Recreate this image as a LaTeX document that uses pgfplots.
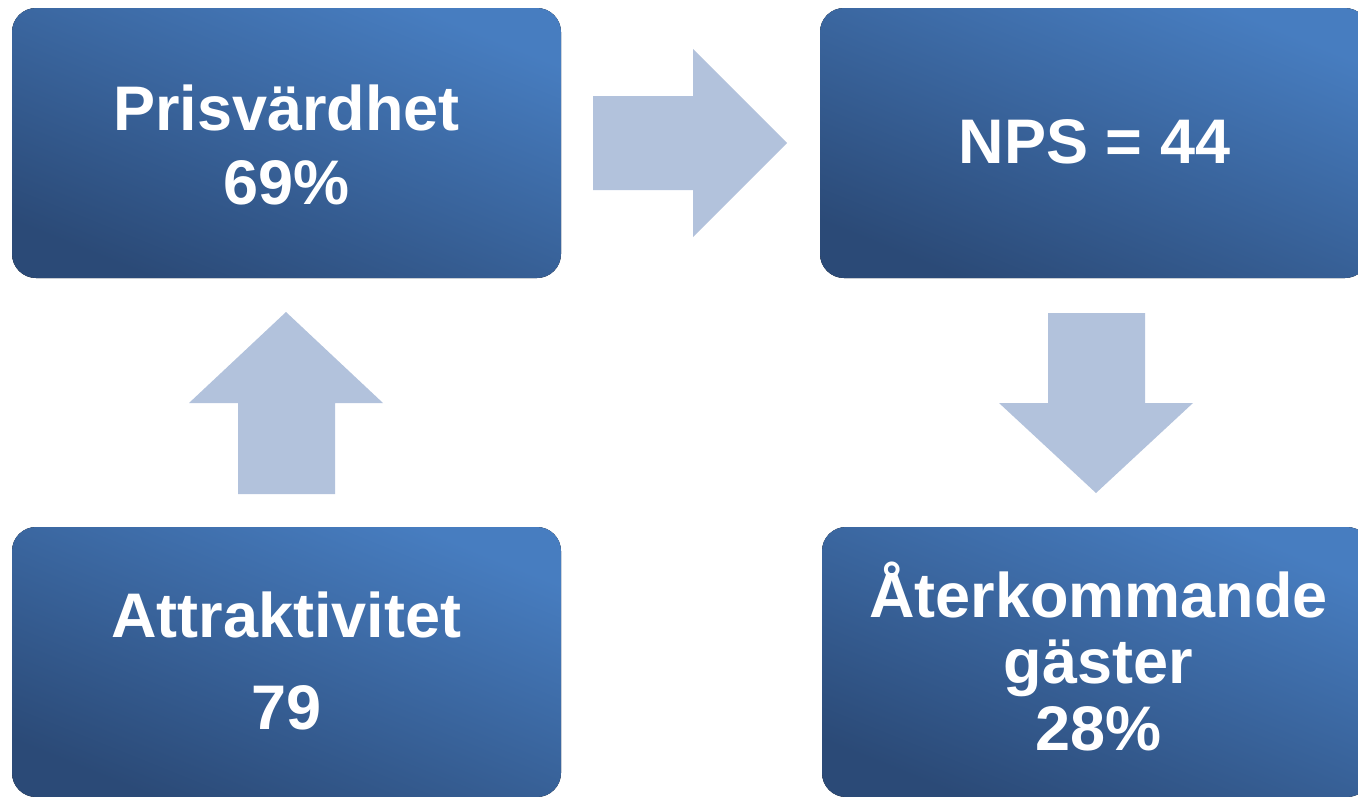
\documentclass[border=0pt]{standalone}
\usepackage{pgfplots}
\pgfplotsset{compat=1.18}
\usepackage{fontspec}
\setmainfont{Liberation Sans}
\definecolor{boxlight}{HTML}{477DC0}
\definecolor{boxdark}{HTML}{2B4A77}
\definecolor{arrowc}{HTML}{B2C2DC}
\newcommand{\boxfont}{\fontsize{63}{72}\selectfont\bfseries}
\begin{document}
\begin{tikzpicture}
\begin{axis}[
  scale only axis, width=1358pt, height=796pt,
  xmin=0, xmax=1358, ymin=0, ymax=796, y dir=reverse,
  hide axis, clip=true,
]
% boxes (pixel coordinates: left, top, right, bottom)
\fill[rounded corners=24pt, top color=boxlight, bottom color=boxdark, shading angle=-22]
  (axis cs:12,8) rectangle (axis cs:561,278);
\fill[rounded corners=24pt, top color=boxlight, bottom color=boxdark, shading angle=-22]
  (axis cs:820,8) rectangle (axis cs:1369,278);
\fill[rounded corners=24pt, top color=boxlight, bottom color=boxdark, shading angle=-22]
  (axis cs:12,527) rectangle (axis cs:561,797);
\fill[rounded corners=24pt, top color=boxlight, bottom color=boxdark, shading angle=-22]
  (axis cs:822,527) rectangle (axis cs:1371,797);
% arrows
\addplot[fill=arrowc, draw=none] coordinates {
  (593,96) (693,96) (693,49) (787,143) (693,237) (693,190) (593,190)} --cycle;
\addplot[fill=arrowc, draw=none] coordinates {
  (238,494) (238,403) (189,403) (286,312) (383,403) (335,403) (335,494)} --cycle;
\addplot[fill=arrowc, draw=none] coordinates {
  (1048,313) (1145,313) (1145,403) (1193,403) (1096,493) (999,403) (1048,403)} --cycle;
% texts
\node[anchor=base, text=white, inner sep=0pt] at (axis cs:286.5,130) {\boxfont Prisvärdhet};
\node[anchor=base, text=white, inner sep=0pt] at (axis cs:286.5,204) {\boxfont 69\%};
\node[anchor=base, text=white, inner sep=0pt] at (axis cs:1094.5,163) {\boxfont NPS = 44};
\node[anchor=base, text=white, inner sep=0pt] at (axis cs:286.5,637) {\boxfont Attraktivitet};
\node[anchor=base, text=white, inner sep=0pt] at (axis cs:286.5,729) {\boxfont 79};
\node[anchor=base, text=white, inner sep=0pt] at (axis cs:1098.5,617) {\boxfont Återkommande};
\node[anchor=base, text=white, inner sep=0pt] at (axis cs:1098.5,683) {\boxfont gäster};
\node[anchor=base, text=white, inner sep=0pt] at (axis cs:1098.5,750) {\boxfont 28\%};
\end{axis}
\pgfresetboundingbox
\useasboundingbox (current axis.south west) rectangle (current axis.north east);
\end{tikzpicture}
\end{document}
